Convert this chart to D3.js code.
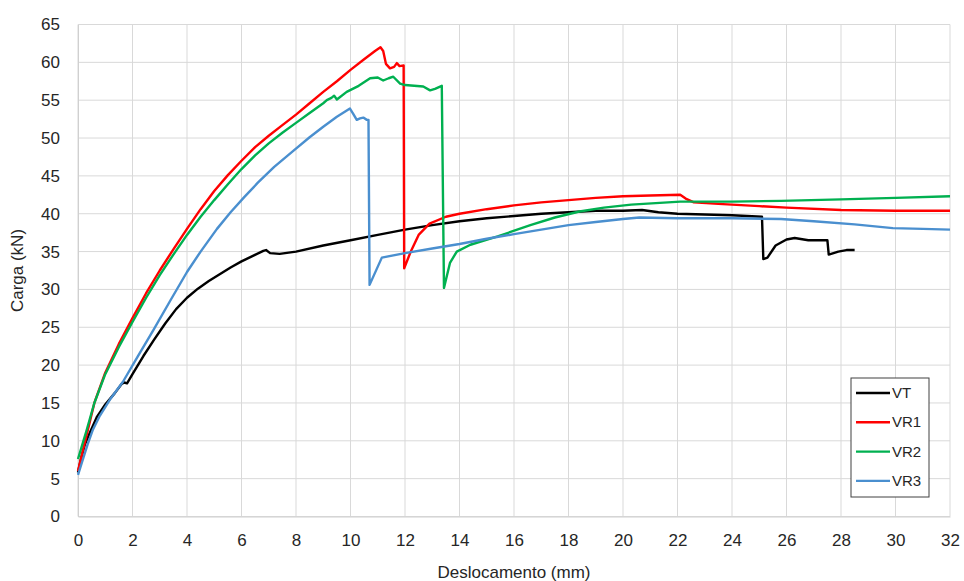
<!DOCTYPE html>
<html><head><meta charset="utf-8">
<script src="https://cdn.jsdelivr.net/npm/d3@7"></script>
<style>body{margin:0;background:#fff}svg{display:block}text{font-family:"Liberation Sans",Arial,sans-serif;fill:#262626}</style>
</head><body><svg id="c" width="964" height="581"></svg>
<script>
const xTicks = [0,2,4,6,8,10,12,14,16,18,20,22,24,26,28,30,32];
const yTicks = [0,5,10,15,20,25,30,35,40,45,50,55,60,65];
const seriesNames = ["VT","VR1","VR2","VR3"];
const seriesColors = ["#000000","#ff0000","#00b050","#4a8fcf"];
const VT = [[0,5.8],[0.1,7.5],[0.25,9.5],[0.45,11.2],[0.7,13.2],[1.0,14.8],[1.35,16.3],[1.6,17.5],[1.7,17.7],[1.8,17.6],[2.0,18.8],[2.4,21.2],[2.8,23.4],[3.2,25.5],[3.6,27.4],[4.0,28.9],[4.4,30.1],[4.8,31.1],[5.2,32.0],[5.6,32.9],[6.0,33.7],[6.4,34.4],[6.8,35.1],[6.9,35.2],[7.05,34.8],[7.4,34.7],[8,35.0],[9,35.8],[10,36.5],[11,37.2],[12,37.9],[13,38.5],[14,39.0],[15,39.4],[16,39.7],[17,40.0],[18,40.2],[19,40.4],[20,40.4],[20.7,40.5],[21.3,40.2],[22,40.0],[23,39.9],[24,39.8],[25.1,39.6],[25.15,34.0],[25.3,34.2],[25.6,35.8],[26.0,36.6],[26.3,36.8],[26.8,36.5],[27.5,36.5],[27.55,34.6],[27.9,35.0],[28.2,35.2],[28.5,35.2]];
const VR1 = [[0,6.0],[0.15,8.3],[0.3,10.5],[0.6,15.0],[1.0,19.0],[1.5,22.8],[2.0,26.2],[2.5,29.5],[3.0,32.5],[3.5,35.3],[4.0,38.0],[4.5,40.6],[5.0,43.0],[5.5,45.1],[6.0,47.0],[6.5,48.8],[7.0,50.3],[7.5,51.7],[8.0,53.1],[8.5,54.6],[9.0,56.1],[9.5,57.5],[10.0,59.0],[10.5,60.4],[10.9,61.5],[11.1,62.0],[11.2,61.5],[11.3,59.8],[11.45,59.2],[11.6,59.4],[11.7,59.9],[11.8,59.5],[11.95,59.6],[11.97,32.8],[12.2,34.9],[12.5,37.2],[12.9,38.7],[13.5,39.6],[14,40.0],[15,40.6],[16,41.1],[17,41.5],[18,41.8],[19,42.1],[20,42.3],[21,42.4],[22.1,42.5],[22.3,42.0],[22.6,41.5],[23.5,41.3],[25,41.0],[26,40.8],[28,40.5],[30,40.4],[32,40.4]];
const VR2 = [[0,7.6],[0.15,9.4],[0.3,11.2],[0.6,15.0],[1.0,18.8],[1.5,22.4],[2.0,25.7],[2.5,28.9],[3.0,31.9],[3.5,34.6],[4.0,37.2],[4.5,39.6],[5.0,41.8],[5.5,43.9],[6.0,45.9],[6.5,47.7],[7.0,49.3],[7.5,50.7],[8.0,52.0],[8.5,53.3],[9.0,54.6],[9.13,55.0],[9.3,55.3],[9.4,55.6],[9.5,55.1],[9.86,56.1],[10.3,56.9],[10.72,57.9],[11.0,58.0],[11.2,57.6],[11.4,57.9],[11.57,58.1],[11.82,57.2],[12.0,57.0],[12.67,56.8],[12.92,56.3],[13.1,56.5],[13.35,56.9],[13.43,30.2],[13.65,33.5],[13.9,35.0],[14.4,35.9],[15.4,37.0],[16.6,38.5],[17.5,39.5],[18.4,40.3],[19.3,40.8],[20.3,41.2],[21.2,41.4],[22.1,41.6],[24,41.6],[25.8,41.7],[28,41.9],[30,42.1],[32,42.3]];
const VR3 = [[0,5.5],[0.15,7.2],[0.35,9.5],[0.55,11.5],[0.8,13.3],[1.2,15.6],[1.65,17.8],[2.2,21.2],[2.76,24.6],[3.4,28.6],[4.0,32.3],[4.5,35.0],[5.1,38.0],[5.6,40.2],[6.1,42.2],[6.6,44.1],[7.2,46.2],[7.9,48.3],[8.5,50.1],[9.0,51.5],[9.5,52.8],[9.98,53.9],[10.1,53.2],[10.23,52.4],[10.35,52.6],[10.47,52.7],[10.6,52.4],[10.66,52.4],[10.7,30.6],[11.15,34.2],[12,34.8],[13,35.4],[14,36.0],[15,36.7],[16,37.3],[17,37.9],[18,38.5],[19,38.9],[20,39.3],[20.6,39.5],[22,39.4],[24,39.4],[25.8,39.3],[27,39.0],[28.5,38.6],[29.9,38.1],[31,38.0],[32,37.9]];
const seriesData = [VT, VR1, VR2, VR3];

const svg = d3.select("#c");
const m = {l:78, r:14, t:24.5, b:64.5};
const W = 964, H = 581;
const x = d3.scaleLinear().domain([0,32]).range([m.l, W-m.r]);
const y = d3.scaleLinear().domain([0,65]).range([H-m.b, m.t]);

// grid
svg.append("g").selectAll("line").data(xTicks).join("line")
  .attr("x1",d=>x(d)).attr("x2",d=>x(d)).attr("y1",y(0)).attr("y2",y(65))
  .attr("stroke","#d9d9d9").attr("stroke-width",1);
svg.append("g").selectAll("line").data(yTicks).join("line")
  .attr("x1",x(0)).attr("x2",x(32)).attr("y1",d=>y(d)).attr("y2",d=>y(d))
  .attr("stroke","#d9d9d9").attr("stroke-width",1);

// axes
const xa = svg.append("g").attr("transform",`translate(0,${y(0)})`)
  .call(d3.axisBottom(x).tickValues(xTicks).tickSize(0).tickPadding(17));
xa.select(".domain").attr("stroke","#d0d0d0");
xa.selectAll("text").style("font-size","17px").attr("fill","#262626");
const ya = svg.append("g").attr("transform",`translate(${x(0)},0)`)
  .call(d3.axisLeft(y).tickValues(yTicks).tickSize(0).tickPadding(18));
ya.select(".domain").attr("stroke","#d0d0d0");
ya.selectAll("text").style("font-size","17px").attr("fill","#262626");

// lines
const line = d3.line().x(d=>x(d[0])).y(d=>y(d[1]));
seriesData.forEach((s,i)=>{
  svg.append("path").datum(s).attr("d",line).attr("fill","none")
    .attr("stroke",seriesColors[i]).attr("stroke-width",2.4).attr("stroke-linejoin","round");
});

// axis titles
svg.append("text").attr("x",(x(0)+x(32))/2).attr("y",578).attr("text-anchor","middle")
  .style("font-size","17px").text("Deslocamento (mm)");
svg.append("text").attr("transform",`translate(23,${(y(0)+y(65))/2}) rotate(-90)`).attr("text-anchor","middle")
  .style("font-size","17px").text("Carga (kN)");

// legend
const lg = svg.append("g");
lg.append("rect").attr("x",851).attr("y",378).attr("width",78).attr("height",119)
  .attr("fill","#fff").attr("stroke","#404040").attr("stroke-width",1);
seriesNames.forEach((n,i)=>{
  const yy = 393 + i*29.3;
  lg.append("line").attr("x1",856).attr("x2",890).attr("y1",yy).attr("y2",yy)
    .attr("stroke",seriesColors[i]).attr("stroke-width",2.4);
  lg.append("text").attr("x",892).attr("y",yy+5).style("font-size",15).text(n);
});
</script></body></html>
